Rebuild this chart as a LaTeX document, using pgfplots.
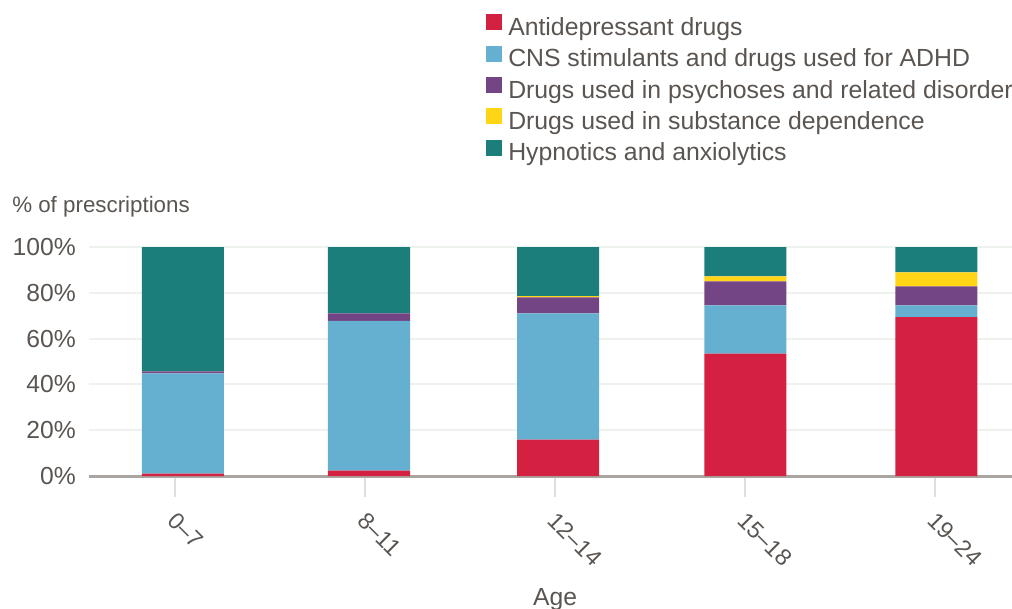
\documentclass[border=0pt]{standalone}
\usepackage{fontspec}
\setmainfont{Liberation Sans}
\usepackage{pgfplots}
\pgfplotsset{compat=1.18}
\definecolor{cRed}{HTML}{D42041}
\definecolor{cBlue}{HTML}{65AFD1}
\definecolor{cPurple}{HTML}{744584}
\definecolor{cYellow}{HTML}{FFD516}
\definecolor{cTeal}{HTML}{1C7E7A}
\definecolor{txt}{HTML}{5A5551}
\definecolor{axisgray}{HTML}{A9A5A1}
\definecolor{tickgray}{HTML}{E2DFDA}
\definecolor{gridgray}{HTML}{EDF2ED}
\begin{document}
\begin{tikzpicture}
\begin{axis}[
  scale only axis, width=692.25pt, height=171.75pt,
  xmin=-0.4526, xmax=4.405, ymin=0, ymax=100,
  ybar stacked, bar width=0.4316,
  axis lines*=left,
  y axis line style={draw=none},
  x axis line style={draw=axisgray, line width=2.25pt},
  xtick={0,1,2,3,4},
  xticklabels={0--7,8--11,12--14,15--18,19--24},
  xtick style={draw=tickgray, line width=1.5pt},
  major tick length=15.75pt, tick align=outside,
  ytick style={draw=none},
  ymajorgrids, grid style={draw=gridgray, line width=1.5pt},
  ytick={0,20,40,60,80,100},
  yticklabels={0\%,20\%,40\%,60\%,80\%,100\%},
  xticklabel style={font=\fontsize{17.5}{20}\selectfont, text=txt, rotate=-45, anchor=north west, inner sep=0pt, xshift=8.5pt, yshift=-5.4pt},
  yticklabel style={font=\fontsize{18.5}{20}\selectfont, text=txt, anchor=east, inner sep=0pt, xshift=6pt},
  legend style={at={(0.4301,2.0175)}, anchor=north west, draw=none, fill=none,
    font=\fontsize{18.6}{20}\selectfont, text=txt, inner sep=0pt,
    nodes={inner sep=0pt, text height=12pt, text depth=4pt},
    row sep=3.5pt, column sep=4.5pt, cells={anchor=west}},
  legend image code/.code={\fill[#1] (0pt,0pt) rectangle (12pt,12pt);},
  clip=false,
]
\addplot+[fill=cRed, draw=none] coordinates {(0.042,1.0) (1.021,2.4) (2.016,15.9) (3.002,53.4) (4.007,69.4)};
\addplot+[fill=cBlue, draw=none] coordinates {(0.042,43.8) (1.021,65.3) (2.016,55.1) (3.002,21.1) (4.007,5.1)};
\addplot+[fill=cPurple, draw=none] coordinates {(0.042,0.9) (1.021,3.3) (2.016,7.0) (3.002,10.5) (4.007,8.3)};
\addplot+[fill=cYellow, draw=none] coordinates {(0.042,0) (1.021,0) (2.016,0.5) (3.002,2.2) (4.007,6.1)};
\addplot+[fill=cTeal, draw=none] coordinates {(0.042,54.3) (1.021,29.0) (2.016,21.5) (3.002,12.8) (4.007,11.1)};
\legend{Antidepressant drugs, CNS stimulants and drugs used for ADHD, Drugs used in psychoses and related disorders, Drugs used in substance dependence, Hypnotics and anxiolytics}
\node[anchor=west, text=txt, font=\fontsize{16.75}{18}\selectfont, inner sep=0pt] at (rel axis cs:-0.0834,1.174) {\% of prescriptions};
\node[anchor=base, text=txt, font=\fontsize{18.5}{20}\selectfont, inner sep=0pt] at (rel axis cs:0.505,-0.566) {Age};
\end{axis}
\pgfresetboundingbox
\path (-66.75pt,-99pt) rectangle (692.25pt,357pt);
\end{tikzpicture}
\end{document}
